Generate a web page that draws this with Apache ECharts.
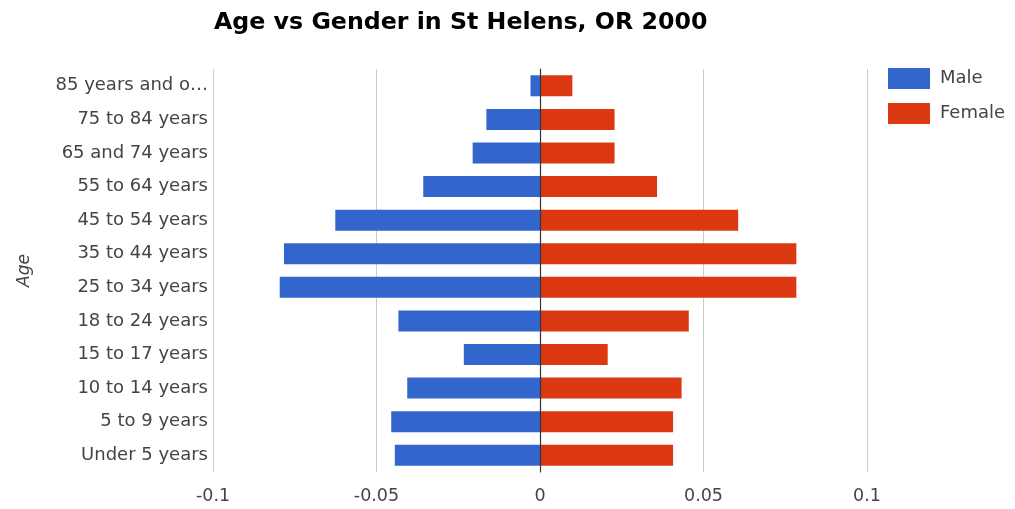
<!DOCTYPE html>
<html>
<head>
<meta charset="utf-8">
<title>Age vs Gender in St Helens, OR 2000</title>
<script src="https://cdn.jsdelivr.net/npm/echarts@6/dist/echarts.min.js"></script>
<style>
  html, body { margin: 0; padding: 0; background: #fff; }
  #chart { width: 1015px; height: 509px; }
</style>
</head>
<body>
<div id="chart"></div>
<script>
// Age groups, top of the pyramid first
const ageGroups = [
  '85 years and over', '75 to 84 years', '65 and 74 years', '55 to 64 years',
  '45 to 54 years', '35 to 44 years', '25 to 34 years', '18 to 24 years',
  '15 to 17 years', '10 to 14 years', '5 to 9 years', 'Under 5 years'
];
// Share of population (male drawn to the left as negative values)
const maleShare = [
  -0.0029, -0.0164, -0.0206, -0.0357, -0.0626, -0.0783,
  -0.0796, -0.0433, -0.0233, -0.0406, -0.0455, -0.0444
];
const femaleShare = [
  0.0099, 0.0228, 0.0228, 0.0358, 0.0606, 0.0784,
  0.0784, 0.0455, 0.0207, 0.0433, 0.0407, 0.0407
];
const xTicks = { min: -0.1, max: 0.1, step: 0.05 };

const FONT = 'DejaVu Sans';
const chart = echarts.init(document.getElementById('chart'), null, { renderer: 'canvas' });

chart.setOption({
  animation: false,
  title: {
    text: 'Age vs Gender in St Helens, OR 2000',
    left: 209,
    top: 6,
    textStyle: { fontFamily: FONT, fontSize: 23.7, fontWeight: 'bold', color: '#000' }
  },
  legend: {
    orient: 'vertical',
    left: 888,
    top: 68,
    padding: 0,
    itemWidth: 42,
    itemHeight: 21,
    itemGap: 14,
    icon: 'rect',
    textStyle: { fontFamily: FONT, fontSize: 18, color: '#444', padding: [0, 0, 0, 5] },
    data: ['Male', 'Female']
  },
  grid: { left: 213, right: 148, top: 69, bottom: 37, containLabel: false },
  xAxis: {
    type: 'value',
    min: xTicks.min,
    max: xTicks.max,
    interval: xTicks.step,
    axisLine: { show: false },
    axisTick: { show: false },
    axisLabel: { fontFamily: FONT, fontSize: 17.5, color: '#444', margin: 15 },
    splitLine: { show: true, lineStyle: { color: '#cccccc', width: 1 } }
  },
  yAxis: {
    type: 'category',
    inverse: true,
    data: ageGroups,
    z: 5,
    name: 'Age',
    nameLocation: 'middle',
    nameRotate: 90,
    nameGap: 180,
    nameTextStyle: { fontFamily: FONT, fontSize: 17, fontStyle: 'italic', color: '#444' },
    axisLine: { show: true, onZero: true, lineStyle: { color: '#333', width: 1.2 } },
    axisTick: { show: false },
    axisLabel: {
      fontFamily: FONT, fontSize: 18, color: '#444', margin: 5,
      width: 160, overflow: 'truncate', ellipsis: '…'
    }
  },
  series: [
    {
      name: 'Male', type: 'bar', data: maleShare,
      barWidth: 21, barGap: '-100%',
      itemStyle: { color: '#3366cc' }
    },
    {
      name: 'Female', type: 'bar', data: femaleShare,
      barWidth: 21,
      itemStyle: { color: '#dc3912' }
    }
  ]
});
</script>
</body>
</html>
